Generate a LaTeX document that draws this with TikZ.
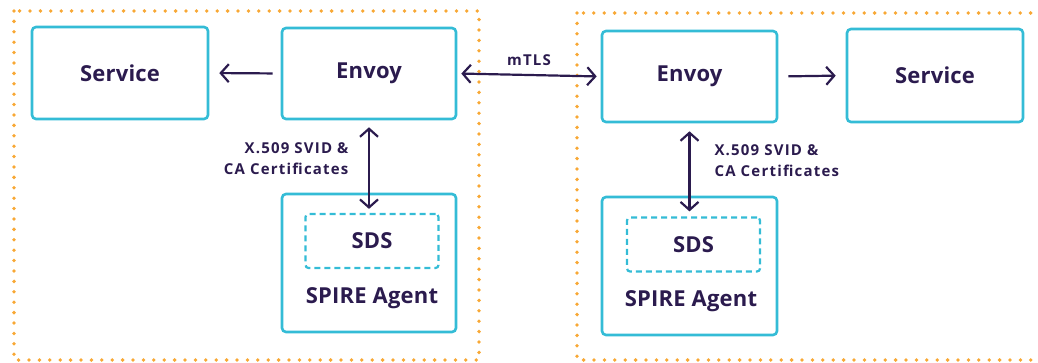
\documentclass[tikz,border=0pt]{standalone}
\usepackage{fontspec}
\setmainfont{Open Sans}
\usepackage{tikz}
\usetikzlibrary{arrows.meta,positioning,calc}
\definecolor{boxcyan}{HTML}{34BCD6}
\definecolor{inkpurple}{HTML}{2B1B4E}
\definecolor{zoneorange}{HTML}{F8A835}

\begin{document}
\begin{tikzpicture}[x=1pt,y=-1pt,
  compbox/.style={draw=boxcyan, line width=2.6pt, rounded corners=4pt, text=inkpurple, font=\fontsize{22}{24}\selectfont\bfseries\addfontfeature{LetterSpace=1}},
  sdsbox/.style={draw=boxcyan, line width=2.2pt, dash pattern=on 6pt off 4pt, rounded corners=3pt, minimum width=133pt, minimum height=54pt},
  zone/.style={draw=zoneorange, line width=3.8pt, line cap=round, dash pattern=on 0pt off 10.4pt},
  flow/.style={draw=inkpurple, line width=2.2pt, -{Straight Barb[length=8pt,width=18pt,line width=2.2pt]}},
  twoway/.style={flow, {Straight Barb[length=8pt,width=18pt,line width=2.2pt]}-{Straight Barb[length=8pt,width=18pt,line width=2.2pt]}},
  lbl/.style={text=inkpurple, font=\fontsize{15}{21}\selectfont\bfseries\addfontfeature{LetterSpace=8}},
  big/.style={text=inkpurple, font=\fontsize{22}{24}\selectfont\bfseries\addfontfeature{LetterSpace=1}}]
\clip (0,0) rectangle (1038,363);

% workload zones
\draw[zone] (14,11) rectangle (479,360);
\draw[zone] (577,13) rectangle (1060,360);

% left workload
\node[compbox, minimum width=176pt, minimum height=92pt] (svcL) at (120,73) {Service};
\node[compbox, minimum width=174pt, minimum height=91pt] (envoyL) at (369,73.5) {Envoy};
\node[compbox, minimum width=174pt, minimum height=138pt] (agentL) at (369,263) {};
\node[sdsbox] (sdsL) at (372,241) {};
\node[big] at (sdsL) {SDS};
\node[big] (agentTxtL) at (372,298) {SPIRE Agent};

% right workload
\node[compbox, minimum width=175pt, minimum height=91pt] (envoyR) at (689.5,76.5) {Envoy};
\node[compbox, minimum width=176pt, minimum height=93pt] (svcR) at (935,75.5) {Service};
\node[compbox, minimum width=175pt, minimum height=138pt] (agentR) at (689.5,266) {};
\node[sdsbox] (sdsR) at (693.5,244.5) {};
\node[big] at (sdsR) {SDS};
\node[big] (agentTxtR) at (691,301) {SPIRE Agent};

% connectors
\draw[flow, shorten <=8pt, shorten >=10pt] (envoyL.west) -- (svcL.east);
\draw[flow, shorten <=10pt, shorten >=10pt] (envoyR.east) -- (svcR.west);
\draw[twoway, shorten <=4pt, shorten >=4pt] (envoyL.east) -- node[lbl, above=5pt] {mTLS} (envoyR.west);
\draw[twoway, shorten <=7pt, shorten >=4pt] (envoyL.south) -- (envoyL.south |- sdsL.north);
\draw[twoway, shorten <=8pt, shorten >=5pt] (envoyR.south) -- (envoyR.south |- sdsR.north);

% secret labels
\node[lbl, align=right, anchor=east] (secretL) at (352,159) {X.509 SVID \&\\CA Certificates};
\node[lbl, align=left, anchor=west] (secretR) at (711,161) {X.509 SVID \&\\CA Certificates};
\end{tikzpicture}
\end{document}
